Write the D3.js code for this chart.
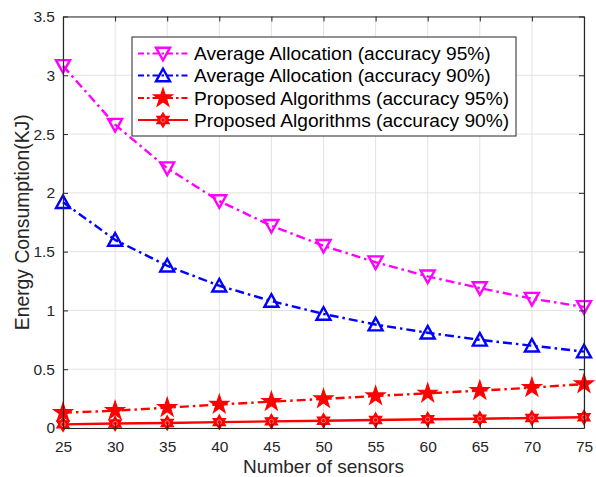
<!DOCTYPE html>
<html>
<head>
<meta charset="utf-8">
<script src="https://cdn.jsdelivr.net/npm/d3@7"></script>
<style>
  html, body { margin: 0; padding: 0; background: #fff; }
  svg { display: block; font-family: "Liberation Sans", Arial, Helvetica, sans-serif; }
</style>
</head>
<body>
<svg id="chart" width="596" height="477"></svg>
<script>
// Number of sensors on the x axis
const sensors = [25, 30, 35, 40, 45, 50, 55, 60, 65, 70, 75];

// Energy consumption (KJ) for each scheme
const avgAlloc95 = [3.08, 2.58, 2.21, 1.93, 1.72, 1.55, 1.41, 1.29, 1.19, 1.10, 1.03];
const avgAlloc90 = [1.92, 1.60, 1.38, 1.21, 1.08, 0.97, 0.88, 0.81, 0.75, 0.70, 0.65];
const proposed95 = [0.13, 0.147, 0.173, 0.20, 0.224, 0.247, 0.272, 0.295, 0.318, 0.343, 0.374];
const proposed90 = [0.031, 0.038, 0.043, 0.050, 0.056, 0.062, 0.068, 0.074, 0.079, 0.085, 0.091];

const xTicks = [25, 30, 35, 40, 45, 50, 55, 60, 65, 70, 75];
const yTicks = [0, 0.5, 1, 1.5, 2, 2.5, 3, 3.5];
const yTickLabels = ["0", "0.5", "1", "1.5", "2", "2.5", "3", "3.5"];

const seriesNames = [
  "Average Allocation (accuracy 95%)",
  "Average Allocation (accuracy 90%)",
  "Proposed Algorithms (accuracy 95%)",
  "Proposed Algorithms (accuracy 90%)"
];

const dashDot = "9,4,2.5,4";
const series = [
  { name: seriesNames[0], values: avgAlloc95, color: "#ff00ff", dash: dashDot, marker: "triDown" },
  { name: seriesNames[1], values: avgAlloc90, color: "#0000ff", dash: dashDot, marker: "triUp" },
  { name: seriesNames[2], values: proposed95, color: "#ff0000", dash: dashDot, marker: "star" },
  { name: seriesNames[3], values: proposed90, color: "#ff0000", dash: null, marker: "hex" }
];

const svg = d3.select("#chart");
const plot = { left: 63, right: 584, top: 16.5, bottom: 428 };

const x = d3.scaleLinear().domain([25, 75]).range([plot.left, plot.right]);
const y = d3.scaleLinear().domain([0, 3.5]).range([plot.bottom, plot.top]);

// scale a text element's font so that it spans the given width
function fitWidth(sel, width) {
  const node = sel.node();
  const base = parseFloat(sel.style("font-size"));
  const w = node.getComputedTextLength();
  if (w > 0) sel.style("font-size", (base * width / w).toFixed(2) + "px");
  return sel;
}

// grid
const grid = svg.append("g");
grid.selectAll("line.gx").data(xTicks).join("line")
  .attr("x1", d => x(d)).attr("x2", d => x(d))
  .attr("y1", plot.top).attr("y2", plot.bottom)
  .attr("stroke", "#e3e3e3").attr("stroke-width", 1);
grid.selectAll("line.gy").data(yTicks).join("line")
  .attr("y1", d => y(d)).attr("y2", d => y(d))
  .attr("x1", plot.left).attr("x2", plot.right)
  .attr("stroke", "#e3e3e3").attr("stroke-width", 1);

// axes (all four sides, ticks pointing inward)
const axisColor = "#262626";
const tickLen = 5;
const bottomAxis = d3.axisBottom(x).tickValues(xTicks).tickSizeInner(-tickLen).tickSizeOuter(0).tickPadding(13);
const topAxis = d3.axisTop(x).tickValues(xTicks).tickSizeInner(-tickLen).tickSizeOuter(0).tickFormat("");
const leftAxis = d3.axisLeft(y).tickValues(yTicks).tickSizeInner(-tickLen).tickSizeOuter(0).tickPadding(8)
  .tickFormat((d, i) => yTickLabels[i]);
const rightAxis = d3.axisRight(y).tickValues(yTicks).tickSizeInner(-tickLen).tickSizeOuter(0).tickFormat("");

function styleAxis(g) {
  g.select(".domain").attr("stroke", axisColor).attr("stroke-width", 1.2);
  g.selectAll(".tick line").attr("stroke", axisColor).attr("stroke-width", 1);
  g.selectAll(".tick text").attr("fill", "#262626").style("font-size", "15.5px")
    .style("font-family", "'Liberation Sans', Arial, Helvetica, sans-serif");
}

// data lines and markers
const lineGen = d3.line().x((d, i) => x(sensors[i])).y(d => y(d));

function markerPath(type) {
  if (type === "triDown") {
    return "M-7,-5.8L7,-5.8L0,6.8Z";
  }
  if (type === "triUp") {
    return "M-7,5.8L7,5.8L0,-6.8Z";
  }
  if (type === "star") {
    return d3.symbol(d3.symbolStar, 110)();
  }
  if (type === "hex") {
    const R = 7.2, r = R / Math.sqrt(3);
    const pts = [];
    for (let k = 0; k < 12; k++) {
      const a = -Math.PI / 2 + k * Math.PI / 6;
      const rr = k % 2 === 0 ? R : r;
      pts.push([rr * Math.cos(a), rr * Math.sin(a)]);
    }
    return "M" + pts.map(p => p[0].toFixed(2) + "," + p[1].toFixed(2)).join("L") + "Z";
  }
}

function drawMarker(g, type, color) {
  const filled = type === "star" || type === "hex";
  g.append("path").attr("d", markerPath(type))
    .attr("stroke", color).attr("stroke-width", filled ? 1.2 : 2.4)
    .attr("stroke-linejoin", "miter")
    .attr("fill", filled ? color : "none");
  if (type === "hex") {
    // inner outline of the filled hexagram
    g.append("circle").attr("r", 2.2).attr("fill", "none")
      .attr("stroke", "#ff9a9a").attr("stroke-width", 0.8);
  }
}

const dataG = svg.append("g");
series.forEach(s => {
  dataG.append("path")
    .datum(s.values)
    .attr("d", lineGen)
    .attr("fill", "none")
    .attr("stroke", s.color)
    .attr("stroke-width", 2.4)
    .attr("stroke-dasharray", s.dash)
    .attr("stroke-linejoin", "round");
  s.values.forEach((v, i) => {
    const mg = dataG.append("g").attr("transform", `translate(${x(sensors[i])},${y(v)})`);
    drawMarker(mg, s.marker, s.color);
  });
});

svg.append("g").attr("transform", `translate(0,${plot.bottom})`).call(bottomAxis).call(styleAxis);
svg.append("g").attr("transform", `translate(0,${plot.top})`).call(topAxis).call(styleAxis);
svg.append("g").attr("transform", `translate(${plot.left},0)`).call(leftAxis).call(styleAxis);
svg.append("g").attr("transform", `translate(${plot.right},0)`).call(rightAxis).call(styleAxis);

// axis titles
const xTitle = svg.append("text")
  .attr("x", (plot.left + plot.right) / 2).attr("y", 473)
  .attr("text-anchor", "middle").attr("fill", "#262626")
  .style("font-size", "16px")
  .text("Number of sensors");
fitWidth(xTitle, 161);
const yTitle = svg.append("text")
  .attr("transform", `translate(28.5,${(plot.top + plot.bottom) / 2}) rotate(-90)`)
  .attr("text-anchor", "middle").attr("fill", "#262626")
  .style("font-size", "16px")
  .text("Energy Consumption(KJ)");
fitWidth(yTitle, 216);

// legend
const legend = svg.append("g");
legend.append("rect")
  .attr("x", 132).attr("y", 37).attr("width", 384).attr("height", 99)
  .attr("fill", "#fff").attr("stroke", "#262626").attr("stroke-width", 1);
const rowY = [53.5, 75.5, 98, 120];
series.forEach((s, i) => {
  const row = legend.append("g").attr("transform", `translate(0,${rowY[i]})`);
  row.append("line").attr("x1", 138).attr("x2", 188).attr("y1", 0).attr("y2", 0)
    .attr("stroke", s.color).attr("stroke-width", 2.2)
    .attr("stroke-dasharray", s.dash ? "6,3,2.5,3" : null);
  const mg = row.append("g").attr("transform", "translate(163,0)");
  drawMarker(mg, s.marker, s.color);
  const t = row.append("text").attr("x", 194).attr("y", 0).attr("dy", "0.36em")
    .attr("fill", "#000").style("font-size", "16px")
    .text(s.name);
  if (i === 0) fitWidth(t, 297);
});
// use one common size for all legend entries
const legendSize = legend.select("text").style("font-size");
legend.selectAll("text").style("font-size", legendSize);
</script>
</body>
</html>
